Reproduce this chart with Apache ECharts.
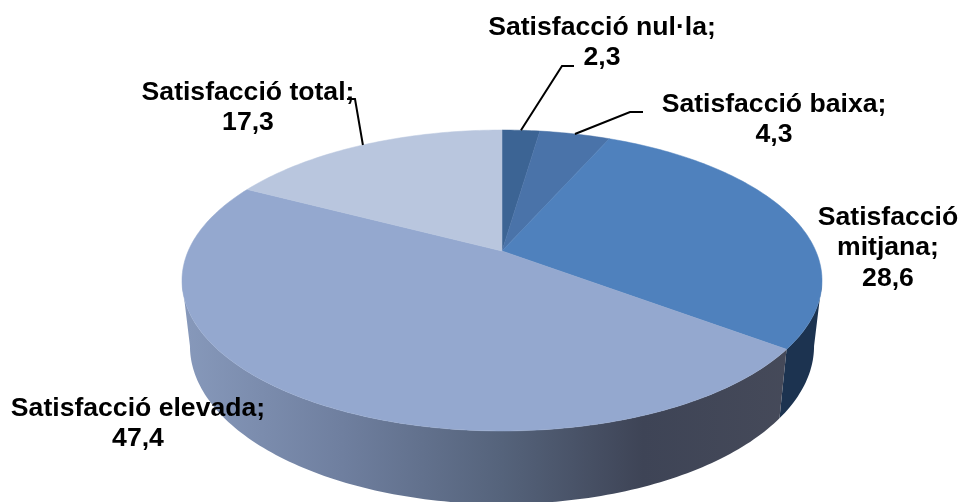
<!DOCTYPE html>
<html>
<head>
<meta charset="utf-8">
<style>
  html, body { margin: 0; padding: 0; background: #fff; }
  #chart { width: 963px; height: 502px; }
</style>
<script src="https://cdn.jsdelivr.net/npm/echarts@6/dist/echarts.min.js"></script>
</head>
<body>
<div id="chart"></div>
<script>
const categories = ['Satisfacció nul·la', 'Satisfacció baixa', 'Satisfacció mitjana', 'Satisfacció elevada', 'Satisfacció total'];
const values = [2.3, 4.3, 28.6, 47.4, 17.3];
const topColors = ['#3c6494', '#4a73a9', '#4f81bd', '#94a8cf', '#b9c6de'];

// perspective of the pie: upper and lower disc, same foreshortening
const cx = 502, persp = 0.196;
const upper = { A: 313.8, B: 144.7, y0: 251 };
const lower = { A: 306, B: 152, y0: 315 };

const total = values.reduce((a, b) => a + b, 0);
let acc = 0;
const slices = values.map((v) => {
  const s = acc / total * 360;
  acc += v;
  return [s, acc / total * 360];
});

function point(deg, disc) {
  const r = deg * Math.PI / 180;
  const u = Math.sin(r), v = Math.cos(r), w = 1 + persp * v;
  return [cx + disc.A * u / w, disc.y0 - disc.B * v / w];
}

function arc(from, to, disc) {
  const pts = [];
  const n = Math.max(2, Math.ceil(Math.abs(to - from)));
  for (let i = 0; i <= n; i++) pts.push(point(from + (to - from) * i / n, disc));
  return pts;
}

// the side wall is only seen between the two tangents of the ellipse
const tangent = Math.acos(-persp) * 180 / Math.PI;
const sideFrom = tangent, sideTo = 360 - tangent;

const sideFill = {
  type: 'linear', x: 182, y: 0, x2: 822, y2: 0, global: true,
  colorStops: [
    { offset: 0, color: '#8799bb' },
    { offset: 0.25, color: '#6f7f9f' },
    { offset: 0.5, color: '#55637b' },
    { offset: 0.72, color: '#3e4456' },
    { offset: 1, color: '#474b5a' }
  ]
};
const sideFills = ['#1c3350', '#1c3350', '#1c3350', sideFill, sideFill];

function renderSide(params) {
  const i = params.dataIndex;
  const from = Math.max(slices[i][0], sideFrom), to = Math.min(slices[i][1], sideTo);
  if (to <= from) return { type: 'group', children: [] };
  const points = arc(from, to, upper).concat(arc(to, from, lower));
  return { type: 'polygon', shape: { points }, style: { fill: sideFills[i] } };
}

function renderTop(params) {
  const i = params.dataIndex;
  const points = [[cx, upper.y0]].concat(arc(slices[i][0], slices[i][1], upper));
  return { type: 'polygon', shape: { points }, style: { fill: topColors[i], stroke: topColors[i], lineWidth: 0.5 } };
}

// elbows of the leader lines, null when the label has none
const elbows = [
  [[562, 66], [574, 66]],
  [[630, 112], [643, 112]],
  null,
  null,
  [[355, 99], [347, 99]]
];
const labelPlaces = [
  { x: 602, y: 27, wrap: false },
  { x: 774, y: 104, wrap: false },
  { x: 888, y: 217, wrap: true },
  { x: 138, y: 408, wrap: false },
  { x: 248, y: 92, wrap: false }
];

function labelText(i) {
  const num = values[i].toFixed(1).replace('.', ',');
  const name = labelPlaces[i].wrap ? categories[i].replace(' ', '\n') : categories[i];
  return name + ';\n' + num;
}

function renderLabel(params) {
  const i = params.dataIndex;
  const children = [];
  if (elbows[i]) {
    const start = point((slices[i][0] + slices[i][1]) / 2, upper);
    children.push({
      type: 'polyline',
      shape: { points: [start].concat(elbows[i]) },
      style: { fill: 'none', stroke: '#000', lineWidth: 2 }
    });
  }
  children.push({
    type: 'text',
    x: labelPlaces[i].x,
    y: labelPlaces[i].y - 15,
    style: {
      text: labelText(i),
      fill: '#000',
      font: 'bold 26.6px "Liberation Sans", Arial, sans-serif',
      lineHeight: 30.5,
      align: 'center',
      verticalAlign: 'top'
    }
  });
  return { type: 'group', children };
}

const chart = echarts.init(document.getElementById('chart'), null, { renderer: 'canvas' });
const rows = values.map((v, i) => [i, v]);

chart.setOption({
  backgroundColor: '#ffffff',
  animation: false,
  series: [
    { type: 'custom', coordinateSystem: 'none', silent: true, z: 1, data: rows, renderItem: renderSide },
    { type: 'custom', coordinateSystem: 'none', silent: true, z: 2, data: rows, renderItem: renderTop },
    { type: 'custom', coordinateSystem: 'none', silent: true, z: 3, data: rows, renderItem: renderLabel }
  ]
});
</script>
</body>
</html>
